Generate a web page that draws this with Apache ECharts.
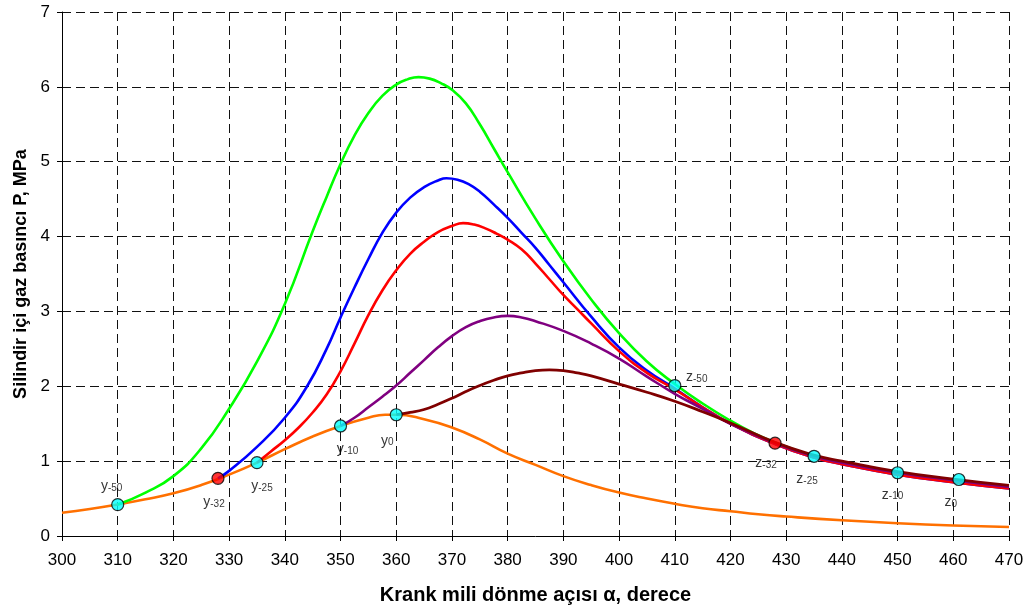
<!DOCTYPE html>
<html>
<head>
<meta charset="utf-8">
<script src="https://cdn.jsdelivr.net/npm/echarts@6.0.0/dist/echarts.min.js"></script>
<style>
  html, body { margin: 0; padding: 0; background: #ffffff; }
  #chart { width: 1036px; height: 613px; }
</style>
</head>
<body>
<div id="chart"></div>
<script>
// Cylinder gas pressure (MPa) against crank angle (degrees).
// Motoring (no combustion) curve.
const motoring = [
  [300, 0.31], [305, 0.36], [310, 0.42], [315, 0.49], [320, 0.57], [325, 0.68],
  [330, 0.82], [335, 0.98], [340, 1.16], [345, 1.33], [350, 1.47], [355, 1.58],
  [358, 1.62], [360, 1.62], [365, 1.56], [370, 1.45], [375, 1.29], [380, 1.10],
  [385, 0.95], [390, 0.80], [395, 0.68], [400, 0.58], [405, 0.50], [410, 0.43],
  [415, 0.37], [420, 0.33], [425, 0.29], [430, 0.26], [440, 0.21], [450, 0.17],
  [460, 0.14], [470, 0.12]
];
// Combustion starting at 50 degrees before TDC.
const start50 = [
  [310, 0.42], [315, 0.58], [320, 0.80], [325, 1.17], [330, 1.70], [335, 2.33],
  [340, 3.10], [345, 4.07], [347.5, 4.53], [350, 4.97], [352.5, 5.35], [355, 5.65],
  [357.5, 5.88], [360, 6.03], [362, 6.10], [364, 6.13], [366, 6.11], [368, 6.05],
  [370, 5.96], [372.5, 5.78], [375, 5.50], [377.5, 5.18], [380, 4.86], [385, 4.24],
  [390, 3.67], [395, 3.16], [400, 2.71], [405, 2.33], [410, 2.03], [415, 1.77],
  [420, 1.54], [424, 1.38], [428, 1.25], [435, 1.065], [440, 0.98], [450, 0.845],
  [460, 0.745], [470, 0.655]
];
// Combustion starting at 32 degrees before TDC.
const start32 = [
  [328, 0.77], [330, 0.87], [335, 1.19], [340, 1.58], [344, 2.00], [347.5, 2.50],
  [350, 2.92], [352.5, 3.32], [355, 3.70], [357.5, 4.05], [360, 4.32], [362.5, 4.52],
  [365, 4.66], [367.5, 4.75], [369, 4.78], [371, 4.76], [373, 4.70], [375, 4.60],
  [377.5, 4.43], [380, 4.25], [382.5, 4.05], [385, 3.85], [387.5, 3.62], [390, 3.39],
  [395, 2.93], [400, 2.52], [405, 2.21], [410, 1.97], [415, 1.72], [420, 1.50],
  [428, 1.23], [435, 1.05], [440, 0.96], [450, 0.82], [460, 0.72], [470, 0.635]
];
// Combustion starting at 25 degrees before TDC.
const start25 = [
  [335, 0.98], [337.5, 1.13], [340, 1.28], [342.5, 1.45], [345, 1.65], [347.5, 1.89],
  [350, 2.20], [352.5, 2.57], [355, 2.95], [357.5, 3.28], [360, 3.55], [362.5, 3.77],
  [365, 3.93], [367.5, 4.06], [370, 4.14], [372, 4.18], [374, 4.16], [376, 4.11],
  [378, 4.04], [380, 3.96], [382.5, 3.83], [385, 3.64], [387.5, 3.43], [390, 3.22],
  [392.5, 3.03], [395, 2.84], [400, 2.47], [405, 2.18], [410, 1.96], [415, 1.72],
  [420, 1.50], [428, 1.23], [435, 1.05], [440, 0.96], [450, 0.82], [460, 0.72],
  [470, 0.635]
];
// Combustion starting at 10 degrees before TDC.
const start10 = [
  [350, 1.47], [352.5, 1.58], [355, 1.72], [357.5, 1.86], [360, 2.01], [362.5, 2.18],
  [365, 2.35], [367.5, 2.52], [370, 2.67], [372.5, 2.79], [375, 2.87], [377.5, 2.92],
  [380, 2.94], [382.5, 2.92], [385, 2.87], [390, 2.74], [395, 2.57], [400, 2.37],
  [405, 2.13], [410, 1.90], [415, 1.70], [420, 1.50], [428, 1.24], [435, 1.065],
  [440, 0.98], [450, 0.845], [460, 0.745], [470, 0.655]
];
// Combustion starting at TDC.
const start0 = [
  [360, 1.62], [362.5, 1.65], [365, 1.69], [367.5, 1.76], [370, 1.84], [372.5, 1.93],
  [375, 2.01], [377.5, 2.08], [380, 2.14], [382.5, 2.18], [385, 2.21], [387.5, 2.22],
  [390, 2.21], [392.5, 2.18], [395, 2.14], [400, 2.03], [405, 1.92], [410, 1.80],
  [415, 1.66], [420, 1.51], [428, 1.25], [435, 1.08], [440, 1.00], [450, 0.86],
  [460, 0.76], [470, 0.675]
];

// Start (y) and end (z) of combustion points.
const pointBase     = ['y', 'y', 'y', 'y', 'y', 'z', 'z', 'z', 'z', 'z'];
const pointSub      = ['-50', '-32', '-25', '-10', '0', '-50', '-32', '-25', '-10', '0'];
const pointAngle    = [310, 328, 335, 350, 360, 410, 428, 435, 450, 461];
const pointPressure = [0.42, 0.77, 0.98, 1.47, 1.62, 2.01, 1.24, 1.065, 0.845, 0.755];

// Label placement around each point, in pixels.
const labelOffset = [
  [-6, -20], [-4, 22], [5, 22], [7, 21], [-9, 24],
  [22, -10], [-9, 18], [-7, 21], [-5, 20], [-8, 21]
];

const FONT = 'Liberation Sans, Arial, sans-serif';

function curve(data, color, width) {
  return {
    type: 'line',
    data: data,
    smooth: 0.5,
    symbol: 'none',
    showSymbol: false,
    silent: true,
    lineStyle: { color: color, width: width },
    z: 2
  };
}

const chart = echarts.init(document.getElementById('chart'), null, { renderer: 'canvas' });

chart.setOption({
  animation: false,
  backgroundColor: '#ffffff',
  grid: { left: 62, right: 27, top: 12, bottom: 77, containLabel: false },
  xAxis: {
    type: 'value',
    min: 300,
    max: 470,
    interval: 10,
    axisLine: { lineStyle: { color: '#000', width: 1 } },
    axisTick: { length: 5, lineStyle: { color: '#000' } },
    axisLabel: { color: '#000', fontSize: 17, margin: 16, fontFamily: FONT, showMinLabel: true, showMaxLabel: true },
    splitLine: { show: true, lineStyle: { color: '#111', width: 1, type: [9, 5] } },
    name: 'Krank mili dönme açısı α, derece',
    nameLocation: 'middle',
    nameGap: 49,
    nameTextStyle: { color: '#000', fontSize: 20, fontWeight: 'bold', fontFamily: FONT }
  },
  yAxis: {
    type: 'value',
    min: 0,
    max: 7,
    interval: 1,
    axisLine: { show: true, lineStyle: { color: '#000', width: 1 } },
    axisTick: { show: true, length: 5, lineStyle: { color: '#000' } },
    axisLabel: { color: '#000', fontSize: 17, margin: 12, fontFamily: FONT },
    splitLine: { show: true, lineStyle: { color: '#111', width: 1, type: [9, 5] } },
    name: 'Silindir içi gaz basıncı P, MPa',
    nameLocation: 'middle',
    nameGap: 29,
    nameTextStyle: { color: '#000', fontSize: 18, fontWeight: 'bold', fontFamily: FONT }
  },
  series: [
    curve(motoring, '#FF7000', 2.6),
    curve(start50, '#00FF00', 2.6),
    curve(start32, '#0000FF', 2.6),
    curve(start25, '#FF0000', 2.6),
    curve(start10, '#800080', 2.6),
    curve(start0, '#800000', 2.8),
    {
      type: 'scatter',
      silent: true,
      z: 5,
      symbolSize: 12,
      data: pointAngle.map((a, i) => ({
        value: [a, pointPressure[i]],
        itemStyle: { color: pointSub[i] === '-32' ? '#FF0000' : '#00FFFF' },
        label: { offset: labelOffset[i] }
      })),
      itemStyle: { borderColor: '#000', borderWidth: 1.2 },
      label: {
        show: true,
        position: 'inside',
        formatter: p => '{b|' + pointBase[p.dataIndex] + '}{s|' + pointSub[p.dataIndex] + '}',
        rich: {
          b: { fontSize: 14, lineHeight: 18, verticalAlign: 'bottom', color: '#000', fontFamily: FONT },
          s: { fontSize: 10, lineHeight: 10, verticalAlign: 'bottom', color: '#000', fontFamily: FONT }
        }
      }
    }
  ]
});
</script>
</body>
</html>
